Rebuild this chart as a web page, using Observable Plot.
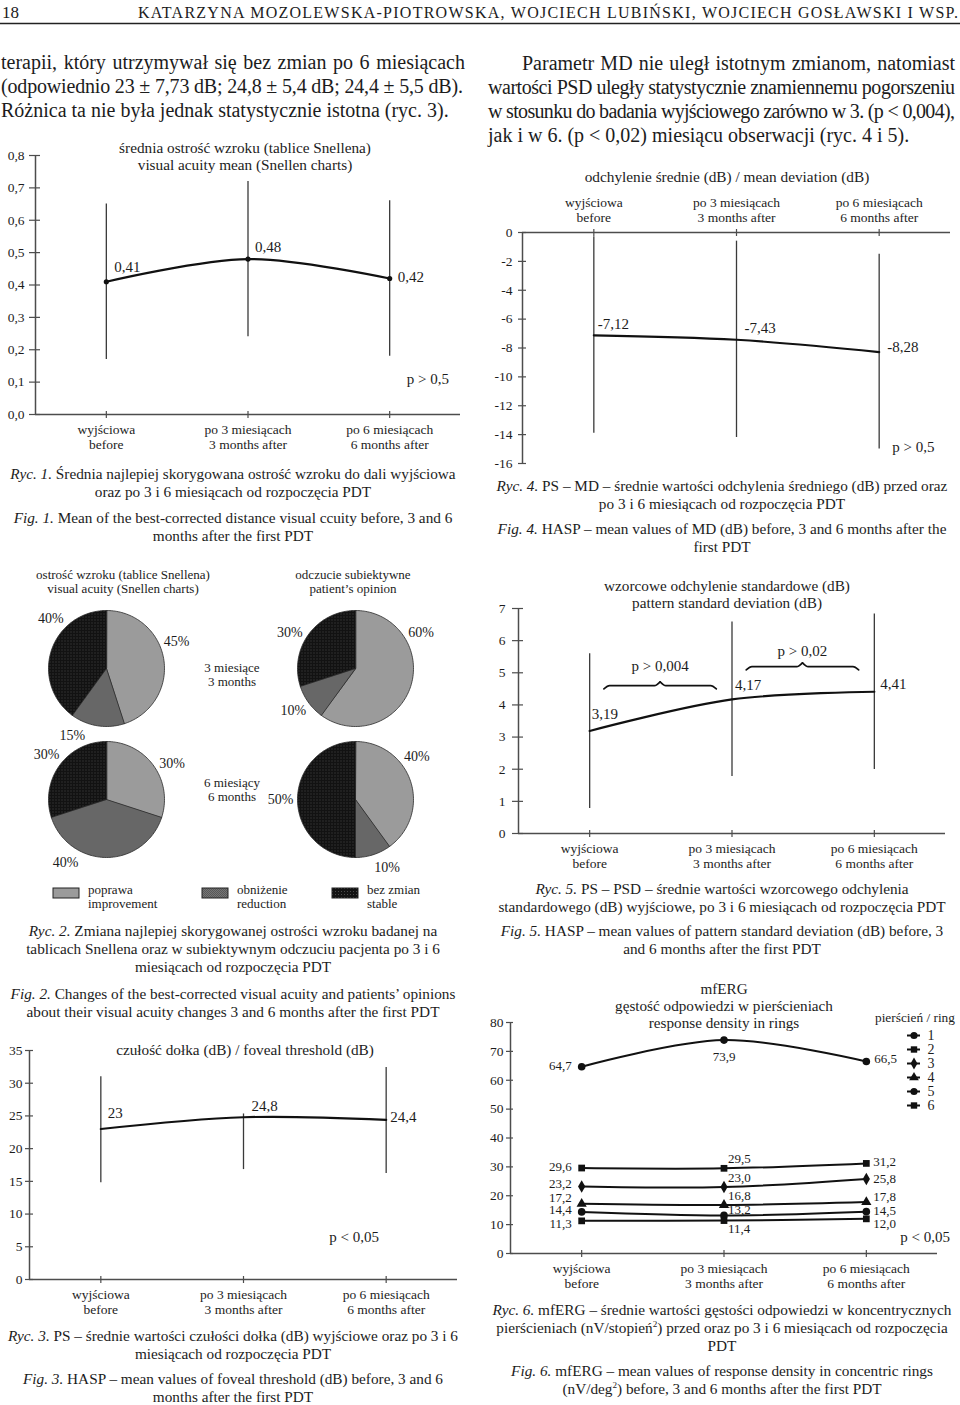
<!DOCTYPE html>
<html lang="pl">
<head>
<meta charset="utf-8">
<title>PDT – ryciny</title>
<script src="https://cdn.jsdelivr.net/npm/d3@7"></script>
<script src="https://cdn.jsdelivr.net/npm/@observablehq/plot@0.6"></script>
<style>
html, body { margin: 0; padding: 0; background: #fff; }
#page { position: relative; width: 960px; height: 1405px; overflow: hidden; font-family: "Liberation Serif", "Times New Roman", serif; color: #1c1c1c; background: #fff; }
#page div.t { position: absolute; white-space: nowrap; }
</style>
</head>
<body>
<svg width="0" height="0" style="position:absolute">
  <defs>
    <pattern id="patRed" width="2" height="2" patternUnits="userSpaceOnUse">
      <rect width="2" height="2" fill="#767676"/>
      <rect width="1" height="1" fill="#585858"/>
      <rect x="1" y="1" width="1" height="1" fill="#585858"/>
    </pattern>
    <pattern id="patStable" width="3" height="3" patternUnits="userSpaceOnUse">
      <rect width="3" height="3" fill="#121212"/>
      <rect x="1" y="1" width="1" height="1" fill="#4a4a4a"/>
    </pattern>
  </defs>
</svg>
<div id="page"></div>
<script>
// ================= DATA =================
const periods = ["wyjściowa\nbefore", "po 3 miesiącach\n3 months after", "po 6 miesiącach\n6 months after"];
const periodIdx = [0, 1, 2];

// Ryc. 1 – visual acuity (Snellen)
const vaTicks = [0, 0.1, 0.2, 0.3, 0.4, 0.5, 0.6, 0.7, 0.8];
const vaMean = [0.41, 0.48, 0.42];
const vaLow = [0.17, 0.24, 0.18];
const vaHigh = [0.65, 0.72, 0.66];

// Ryc. 4 – mean deviation
const mdTicks = [0, -2, -4, -6, -8, -10, -12, -14, -16];
const mdMean = [-7.12, -7.43, -8.28];
const mdLow = [-13.9, -14.2, -15.0];
const mdHigh = [-0.3, -0.6, -1.5];

// Ryc. 5 – pattern standard deviation
const psdTicks = [0, 1, 2, 3, 4, 5, 6, 7];
const psdMean = [3.19, 4.17, 4.41];
const psdLow = [0.78, 1.77, 1.99];
const psdHigh = [5.59, 6.58, 6.83];
const psdTests = [{from: 0, to: 1, p: "p > 0,004"}, {from: 1, to: 2, p: "p > 0,02"}];

// Ryc. 3 – foveal threshold
const ftTicks = [0, 5, 10, 15, 20, 25, 30, 35];
const ftMean = [23, 24.8, 24.4];
const ftLow = [14.8, 16.8, 16.2];
const ftHigh = [31.0, 25.3, 32.4];

// Ryc. 6 – mfERG ring response density
const ergTicks = [0, 10, 20, 30, 40, 50, 60, 70, 80];
const rings = ["1", "2", "3", "4", "5", "6"];
const ringBefore = [64.7, 29.6, 23.2, 17.2, 14.4, 11.3];
const ring3m = [73.9, 29.5, 23.0, 16.8, 13.2, 11.4];
const ring6m = [66.5, 31.2, 25.8, 17.8, 14.5, 12.0];

// Ryc. 2 – pies (improvement, reduction, stable), %
const pieCatsPL = ["poprawa", "obniżenie", "bez zmian"];
const pieCatsEN = ["improvement", "reduction", "stable"];
const pieVA3 = [45, 15, 40];
const pieOP3 = [60, 10, 30];
const pieVA6 = [30, 40, 30];
const pieOP6 = [40, 10, 50];

// ================= STYLE / LAYOUT =================
const FONT = '"Liberation Serif", "Times New Roman", serif';
const INK = "#1c1c1c", AXIS = "#4d4d4d", ERR = "#3a3a3a", LINE = "#111";
const pieFills = ["#9b9b9b", "url(#patRed)", "url(#patStable)"];
const ringSymbols = ["circle", "square", "diamond", "triangle", "circle", "square"];

const page = document.getElementById("page");
const ctx = document.createElement("canvas").getContext("2d");
const measure = (t, size, style = "") => { ctx.font = `${style} ${size}px ${FONT}`; return ctx.measureText(t).width; };
const fit = (t, w, style = "") => 20 * w / measure(t, 20, style);
const fmt = (v, d) => (d == null ? String(v) : v.toFixed(d)).replace(".", ",");

function addText(html, x, y, size, opts = {}) {
  const d = document.createElement("div");
  d.className = "t";
  d.innerHTML = html;
  const lh = Math.round(size * 1.25);
  d.style.fontSize = size + "px";
  d.style.lineHeight = lh + "px";
  d.style.top = (y - lh / 2) + "px";
  d.style.left = x + "px";
  if (opts.anchor === "middle") d.style.transform = "translateX(-50%)";
  page.appendChild(d);
  if (opts.justify) {
    const w = d.getBoundingClientRect().width;
    const extra = opts.justify - w;
    const txt = d.textContent;
    const n = (txt.match(/ /g) || []).length;
    if (extra >= 0) { if (n) d.style.wordSpacing = (extra / n) + "px"; }
    else d.style.letterSpacing = (extra / (txt.length - 1)) + "px";
  }
  return d;
}
function block(lines, cx, ys, size) { lines.forEach((l, k) => addText(l, cx, ys[k], size, {anchor: "middle"})); }
function addPlot(svg, left, top) {
  svg.style.position = "absolute"; svg.style.left = left + "px"; svg.style.top = top + "px";
  page.appendChild(svg);
}

// ---------- header ----------
page.insertAdjacentHTML("beforeend",
  `<svg width="960" height="30" style="position:absolute;left:0;top:0;font-family:${FONT.replace(/"/g, "'")}" fill="${INK}">
     <text x="2" y="18" font-size="17">18</text>
     <text x="138" y="18" font-size="16" textLength="820" lengthAdjust="spacing">KATARZYNA  MOZOLEWSKA-PIOTROWSKA,  WOJCIECH  LUBIŃSKI,  WOJCIECH  GOSŁAWSKI  I  WSP.</text>
     <line x1="0" x2="960" y1="23.5" y2="23.5" stroke="#222" stroke-width="1.3"/>
   </svg>`);

// ---------- body paragraphs ----------
const paraSize = fit("Różnica ta nie była jednak statystycznie istotna (ryc. 3).", 448);
addText("terapii, który utrzymywał się bez zmian po 6 miesiącach", 1, 62, paraSize, {justify: 464});
addText("(odpowiednio 23 ± 7,73 dB; 24,8 ± 5,4 dB; 24,4 ± 5,5 dB).", 1, 86, paraSize, {justify: 462});
addText("Różnica ta nie była jednak statystycznie istotna (ryc. 3).", 1, 110, paraSize);
addText("Parametr MD nie uległ istotnym zmianom, natomiast", 522, 63, paraSize, {justify: 433});
addText("wartości PSD uległy statystycznie znamiennemu pogorszeniu", 488, 87, paraSize, {justify: 467});
addText("w stosunku do badania wyjściowego zarówno w 3. (p < 0,004),", 488, 111, paraSize, {justify: 467});
addText("jak i w 6. (p < 0,02) miesiącu obserwacji (ryc. 4 i 5).", 488, 135, paraSize);

// ---------- captions ----------
const capSize = fit("Ryc. 1. Średnia najlepiej skorygowana ostrość wzroku do dali wyjściowa", 447);
block(["<i>Ryc. 1.</i> Średnia najlepiej skorygowana ostrość wzroku do dali wyjściowa",
       "oraz po 3 i 6 miesiącach od rozpoczęcia PDT",
       "<i>Fig. 1.</i> Mean of the best-corrected distance visual ccuity before, 3 and 6",
       "months after the first PDT"], 233, [473, 491, 517, 535], capSize);
block(["<i>Ryc. 4.</i> PS – MD – średnie wartości odchylenia średniego (dB) przed oraz",
       "po 3 i 6 miesiącach od rozpoczęcia PDT",
       "<i>Fig. 4.</i> HASP – mean values of MD (dB) before, 3 and 6 months after the",
       "first PDT"], 722, [485, 503, 528, 546], capSize);
block(["<i>Ryc. 2.</i> Zmiana najlepiej skorygowanej ostrości wzroku badanej na",
       "tablicach Snellena oraz w subiektywnym odczuciu pacjenta po 3 i 6",
       "miesiącach od rozpoczęcia PDT",
       "<i>Fig. 2.</i> Changes of the best-corrected visual acuity and patients’ opinions",
       "about their visual acuity changes 3 and 6 months after the first PDT"], 233, [930, 948, 966, 993, 1011], capSize);
block(["<i>Ryc. 5.</i> PS – PSD – średnie wartości wzorcowego odchylenia",
       "standardowego (dB) wyjściowe, po 3 i 6 miesiącach od rozpoczęcia PDT",
       "<i>Fig. 5.</i> HASP – mean values of pattern standard deviation (dB) before, 3",
       "and 6 months after the first PDT"], 722, [888, 906, 930, 948], capSize);
block(["<i>Ryc. 3.</i> PS – średnie wartości czułości dołka (dB) wyjściowe oraz po 3 i 6",
       "miesiącach od rozpoczęcia PDT",
       "<i>Fig. 3.</i> HASP – mean values of foveal threshold (dB) before, 3 and 6",
       "months after the first PDT"], 233, [1335, 1353, 1378, 1396], capSize);
block(["<i>Ryc. 6.</i> mfERG – średnie wartości gęstości odpowiedzi w koncentrycznych",
       "pierścieniach (nV/stopień<sup style=\"font-size:60%;line-height:0\">2</sup>) przed oraz po 3 i 6 miesiącach od rozpoczęcia",
       "PDT",
       "<i>Fig. 6.</i> mfERG – mean values of response density in concentric rings",
       "(nV/deg<sup style=\"font-size:60%;line-height:0\">2</sup>) before, 3 and 6 months after the first PDT"], 722, [1309, 1327, 1345, 1370, 1388], capSize);

// ---------- chart titles ----------
const t1 = fit("średnia ostrość wzroku (tablice Snellena)", 252);
block(["średnia ostrość wzroku (tablice Snellena)", "visual acuity mean (Snellen charts)"], 245, [147, 164], t1);
block(["odchylenie średnie (dB) / mean deviation (dB)"], 727, [176], fit("odchylenie średnie (dB) / mean deviation (dB)", 285));
const t5 = fit("wzorcowe odchylenie standardowe (dB)", 246);
block(["wzorcowe odchylenie standardowe (dB)", "pattern standard deviation (dB)"], 727, [585, 602], t5);
block(["czułość dołka (dB) / foveal threshold (dB)"], 245, [1049], fit("czułość dołka (dB) / foveal threshold (dB)", 258));
const t6 = fit("gęstość odpowiedzi w pierścieniach", 218);
block(["mfERG", "gęstość odpowiedzi w pierścieniach", "response density in rings"], 724, [988, 1005, 1022], t6);
const t2 = fit("ostrość wzroku (tablice Snellena)", 174);
block(["ostrość wzroku (tablice Snellena)", "visual acuity (Snellen charts)"], 123, [575, 589], t2);
block(["odczucie subiektywne", "patient’s opinion"], 353, [575, 589], t2);
block(["3 miesiące", "3 months"], 232, [668, 682], t2);
block(["6 miesiący", "6 months"], 232, [783, 797], t2);
addText("pierścień / ring", 875, 1017, fit("pierścień / ring", 80));

// ================= LINE CHARTS WITH ERROR BARS =================
function meanChart(c) {
  const rows = periodIdx.map(i => ({i, m: c.mean[i], lo: c.low[i], hi: c.high[i]}));
  const top = !!c.xTop;
  const marks = [
    Plot.ruleX([-0.5], {stroke: AXIS, strokeWidth: 1.5}),
    Plot.ruleY([c.xTop ? c.yDomain[1] : c.yDomain[0]], {stroke: AXIS, strokeWidth: 1.5}),
    Plot.axisY({ticks: c.yTicks, tickFormat: c.yFormat, tickSize: c.yAxis[0], dx: c.yAxis[1], tickPadding: c.yAxis[2],
                label: null, stroke: AXIS, strokeWidth: 1.2, fontSize: 13.5}),
    Plot.axisX({anchor: top ? "top" : "bottom", ticks: periodIdx, tickFormat: i => periods[i], tickSize: 7, dy: top ? 3 : -3,
                tickPadding: c.xPad, label: null, lineHeight: 1.1, stroke: AXIS, strokeWidth: 1.2, fontSize: 13.5}),
    Plot.ruleX(rows, {x: "i", y1: "lo", y2: "hi", stroke: ERR, strokeWidth: 1.3}),
    Plot.line(rows, {x: "i", y: "m", curve: "catmull-rom", stroke: LINE, strokeWidth: 2.2})
  ];
  if (c.dots) marks.push(Plot.dot(rows, {x: "i", y: "m", r: 2.6, fill: LINE}));
  rows.forEach((row, k) => marks.push(Plot.text([row], {x: "i", y: "m", text: d => c.fmt(d.m), dx: c.nudge[k][0], dy: c.nudge[k][1],
                                                          textAnchor: "start", fontSize: 15, fill: INK})));
  if (c.note) marks.push(Plot.text([c.note.text], {x: () => c.note.x, y: () => c.note.y, text: d => d, dx: c.note.dx,
                                                   textAnchor: c.note.anchor, fontSize: 15, fill: INK}));
  if (c.extra) marks.push(...c.extra);
  return Plot.plot({
    width: c.size[0], height: c.size[1],
    marginTop: c.margin[0], marginRight: c.margin[1], marginBottom: c.margin[2], marginLeft: c.margin[3],
    style: {fontFamily: FONT, fontSize: "13.5px", color: INK, background: "transparent", overflow: "visible"},
    x: {domain: [-0.5, 2.5]},
    y: {domain: c.yDomain},
    marks
  });
}

// Ryc. 1
addPlot(meanChart({
  mean: vaMean, low: vaLow, high: vaHigh, yDomain: [0, 0.8], yTicks: vaTicks, yFormat: d => fmt(d, 1),
  size: [475, 330], margin: [25, 15, 46, 35], yAxis: [11, 5, 5], xPad: 5, dots: true,
  fmt: v => fmt(v, 2), nudge: [[8, -15], [7, -12], [8, -1]],
  note: {text: "p > 0,5", x: 2, y: 0.11, dx: 17, anchor: "start"}
}), 0, 130);

// Ryc. 4
addPlot(meanChart({
  mean: mdMean, low: mdLow, high: mdHigh, yDomain: [-16, 0], yTicks: mdTicks, yFormat: d => String(d),
  size: [475, 285], margin: [47, 5, 7, 42], yAxis: [8, 4, 6], xTop: true, xPad: 7,
  fmt: v => fmt(v, 2), nudge: [[4, -11], [8, -12], [8, -5]],
  note: {text: "p > 0,5", x: 2, y: -14.9, dx: 13, anchor: "start"}
}), 480, 185);

// Ryc. 5 (with significance braces)
const braceLayout = [{level: 4.6, textDy: -19}, {level: 5.19, textDy: -15}];
const braceLines = [], braceTexts = [];
psdTests.forEach((t, k) => {
  const x0 = t.from + 0.1, x1 = t.to - 0.11, xm = (x0 + x1) / 2, L = braceLayout[k].level;
  const q = 0.04, d = 0.1, tip = 0.12;
  braceLines.push(
    {id: k + "a", x: x0, y: L - d}, {id: k + "a", x: x0 + q, y: L}, {id: k + "a", x: xm - q, y: L}, {id: k + "a", x: xm, y: L + tip},
    {id: k + "b", x: xm, y: L + tip}, {id: k + "b", x: xm + q, y: L}, {id: k + "b", x: x1 - q, y: L}, {id: k + "b", x: x1, y: L - d});
  braceTexts.push(Plot.text([t], {x: () => xm, y: () => L, text: "p", dy: braceLayout[k].textDy, fontSize: 15, fill: INK}));
});
addPlot(meanChart({
  mean: psdMean, low: psdLow, high: psdHigh, yDomain: [0, 7], yTicks: psdTicks, yFormat: d => String(d),
  size: [475, 300], margin: [38, 10, 37, 38], yAxis: [11, 5, 7], xPad: 5,
  fmt: v => fmt(v, 2), nudge: [[2, -17], [3, -14], [6, -8]],
  extra: [Plot.line(braceLines, {x: "x", y: "y", z: "id", curve: "monotone-x", stroke: LINE, strokeWidth: 1.7}), ...braceTexts]
}), 480, 570);

// Ryc. 3
addPlot(meanChart({
  mean: ftMean, low: ftLow, high: ftHigh, yDomain: [0, 35], yTicks: ftTicks, yFormat: d => String(d),
  size: [475, 275], margin: [10, 18, 36, 29], yAxis: [8, 4, 3], xPad: 5,
  fmt: v => fmt(v), nudge: [[7, -16], [8, -11], [4, -3]],
  note: {text: "p < 0,05", x: 2, y: 6.4, dx: -32, anchor: "middle"}
}), 0, 1040);

// ================= Ryc. 6 – mfERG =================
const ringSeries = [ringBefore, ring3m, ring6m];
const ringRows = rings.flatMap((r, k) => periodIdx.map(i => ({ring: r, k, i, v: ringSeries[i][k]})));
const ringLabelLayout = [
  {dx: [-10, -10, -10, -10, -10, -10], anchor: ["end", "end", "end", "end", "end", "end"], dy: [-1, -1, -3, -6, -2, 3]},
  {dx: [0, 4, 4, 4, 4, 4], anchor: ["middle", "start", "start", "start", "start", "start"], dy: [17, -9, -9, -9, -6, 8]},
  {dx: [8, 7, 7, 7, 7, 7], anchor: ["start", "start", "start", "start", "start", "start"], dy: [-3, -2, 0, -5, -1, 5]}
];
const ergMarks = [
  Plot.ruleX([-0.5], {stroke: AXIS, strokeWidth: 1.5}),
  Plot.ruleY([0], {stroke: AXIS, strokeWidth: 1.5}),
  Plot.axisY({ticks: ergTicks, tickSize: 7, dx: 3, tickPadding: 3, label: null, stroke: AXIS, strokeWidth: 1.2, fontSize: 13.5}),
  Plot.axisX({ticks: periodIdx, tickFormat: i => periods[i], tickSize: 7, dy: -3, tickPadding: 5, label: null,
              lineHeight: 1.1, stroke: AXIS, strokeWidth: 1.2, fontSize: 13.5}),
  Plot.line(ringRows, {x: "i", y: "v", z: "ring", curve: "catmull-rom", stroke: LINE, strokeWidth: 2})
];
rings.forEach((r, k) => {
  ergMarks.push(Plot.dot(ringRows.filter(d => d.k === k), {x: "i", y: "v", symbol: ringSymbols[k], r: 3.8, fill: LINE}));
  periodIdx.forEach(i => {
    const L = ringLabelLayout[i];
    ergMarks.push(Plot.text(ringRows.filter(d => d.k === k && d.i === i), {x: "i", y: "v", text: d => fmt(d.v, 1),
      dx: L.dx[k], dy: L.dy[k], textAnchor: L.anchor[k], fontSize: 13, fill: INK}));
  });
});
ergMarks.push(Plot.text(["p < 0,05"], {x: () => 2, y: () => 5.5, text: d => d, dx: 34, textAnchor: "start", fontSize: 15, fill: INK}));
addPlot(Plot.plot({
  width: 475, height: 285, marginTop: 12, marginRight: 18, marginBottom: 42, marginLeft: 30,
  style: {fontFamily: FONT, fontSize: "13.5px", color: INK, background: "transparent", overflow: "visible"},
  x: {domain: [-0.5, 2.5]}, y: {domain: [0, 80]},
  marks: ergMarks
}), 480, 1010);

// ring legend
const legMarks = [Plot.ruleY(rings, {y: d => d, x1: () => 0, x2: () => 1, stroke: LINE, strokeWidth: 2})];
rings.forEach((r, k) => legMarks.push(Plot.dot([r], {x: () => 0.5, y: d => d, symbol: ringSymbols[k], r: 3.6, fill: LINE})));
legMarks.push(Plot.text(rings, {x: () => 1, y: d => d, text: d => d, dx: 7, textAnchor: "start", fontSize: 14, fill: INK}));
addPlot(Plot.plot({
  width: 56, height: 90, margin: 0,
  style: {fontFamily: FONT, fontSize: "14px", color: INK, background: "transparent", overflow: "visible"},
  x: {domain: [0, 1], range: [7, 20], axis: null},
  y: {type: "point", domain: rings, range: [7, 7 + 5 * 14.8], padding: 0, axis: null},
  marks: legMarks
}), 900, 1026);

// ================= Ryc. 2 – pies =================
const PIE = {cx: [106, 355], cy: [68, 199], r: 58, labelR: 75};
const pieSets = [
  {values: pieVA3, col: 0, row: 0, turn: [-12, 18, 24]},
  {values: pieOP3, col: 1, row: 0, turn: [-47, 2, -7]},
  {values: pieVA6, col: 0, row: 1, turn: [7, 33, 1]},
  {values: pieOP6, col: 1, row: 1, turn: [-17, -7, 0]}
];
const slicePts = [], pieLabels = [];
pieSets.forEach((p, pi) => {
  const cx = PIE.cx[p.col], cy = PIE.cy[p.row];
  d3.pie().sort(null)(p.values).forEach((a, k) => {
    const key = pi + "-" + k;
    slicePts.push({key, k, x: cx, y: cy});
    const n = Math.max(2, Math.ceil((a.endAngle - a.startAngle) / 0.03));
    for (let j = 0; j <= n; j++) {
      const t = a.startAngle + (a.endAngle - a.startAngle) * j / n;
      slicePts.push({key, k, x: cx + PIE.r * Math.sin(t), y: cy - PIE.r * Math.cos(t)});
    }
    const mid = (a.startAngle + a.endAngle) / 2 + p.turn[k] * Math.PI / 180;
    pieLabels.push({x: cx + PIE.labelR * Math.sin(mid), y: cy - PIE.labelR * Math.cos(mid), text: a.data + "%"});
  });
});
const pieMarks = pieFills.map((f, k) => Plot.line(slicePts.filter(d => d.k === k),
  {x: "x", y: "y", z: "key", fill: f, stroke: "#2a2a2a", strokeWidth: 0.8, curve: "linear-closed"}));
pieMarks.push(Plot.text(pieLabels, {x: "x", y: "y", text: "text", fontSize: 14, fill: INK}));
addPlot(Plot.plot({
  width: 480, height: 290, margin: 0,
  style: {fontFamily: FONT, fontSize: "14px", color: INK, background: "transparent", overflow: "visible"},
  x: {type: "identity", axis: null}, y: {type: "identity", axis: null},
  marks: pieMarks
}), 0, 600);

// pie legend
const legX = [53, 202, 332];
pieCatsPL.forEach((c, k) => {
  page.insertAdjacentHTML("beforeend",
    `<svg width="28" height="12" style="position:absolute;left:${legX[k] - 1}px;top:${887}px"><rect x="1" y="1" width="26" height="10" fill="${pieFills[k]}" stroke="#222" stroke-width="1"/></svg>`);
  addText(c, legX[k] + 35, 890, t2);
  addText(pieCatsEN[k], legX[k] + 35, 904, t2);
});
</script>
</body>
</html>
